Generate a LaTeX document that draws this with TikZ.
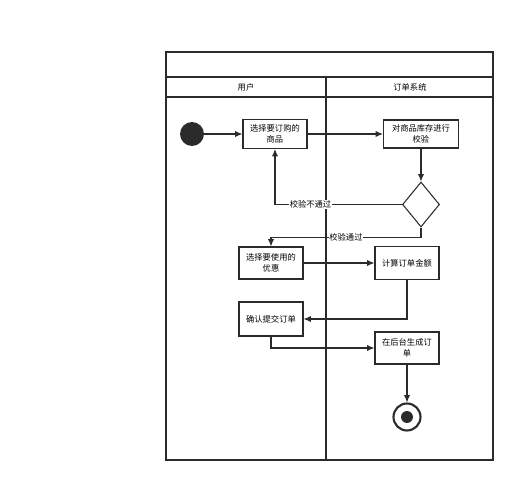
\documentclass[tikz,border=0pt]{standalone}
\usepackage{fontspec}
\newfontfamily\cjk{Noto Sans CJK SC}
\usepackage{tikz}
\usetikzlibrary{shapes.geometric, positioning, arrows.meta}
\definecolor{lineclr}{HTML}{2B2B2B}
\tikzset{>={Latex[length=4.2pt, width=3.6pt]}}
\tikzset{font=\cjk\fontsize{4.7}{6}\selectfont}
\tikzset{actbox/.style={draw=lineclr, line width=0.6pt, fill=white, align=center,
    inner sep=1pt, minimum width=1.28cm}}
\tikzset{flow/.style={->, draw=lineclr, line width=0.6pt}}
\tikzset{guard/.style={fill=white, inner sep=0.5pt}}

\begin{document}
\begin{tikzpicture}[x=0.02cm, y=-0.02cm]
  \useasboundingbox (0,0) rectangle (532,500);
  % swimlane frame
  \draw[lineclr, line width=0.6pt] (166,52) rectangle (493,460);
  \draw[lineclr, line width=0.6pt] (166,77) -- (493,77);
  \draw[lineclr, line width=0.6pt] (166,97) -- (493,97);
  \draw[lineclr, line width=0.6pt] (326,77) -- (326,460);
  \node (laneuser) at (246,87) {用户};
  \node (laneorder) at (410,87) {订单系统};

  % activities
  \node[circle, fill=lineclr, minimum size=0.48cm, inner sep=0pt] (start) at (192,134) {};
  \node[actbox, minimum height=0.58cm] (pick) at (275,134) {选择要订购的\\商品};
  \node[actbox, minimum width=1.5cm, minimum height=0.56cm] (check) at (421,134) {对商品库存进行\\校验};
  \node[diamond, draw=lineclr, line width=0.6pt, minimum width=0.74cm,
    minimum height=0.9cm, inner sep=0pt] (dec) at (421,204.5) {};
  \node[actbox, minimum height=0.64cm] (coupon) at (271,263) {选择要使用的\\优惠};
  \node[actbox, minimum height=0.66cm] (calc) at (407,263) {计算订单金额};
  \node[actbox, minimum height=0.68cm] (confirm) at (271,319) {确认提交订单};
  \node[actbox, minimum height=0.64cm] (gen) at (407,348) {在后台生成订\\单};
  \node[circle, draw=lineclr, line width=1.2pt, minimum size=0.54cm, inner sep=0pt] (end) at (407,417) {};
  \node[circle, fill=lineclr, minimum size=0.24cm, inner sep=0pt] (enddot) at (end) {};

  % flows
  \draw[flow] (start) -- (pick);
  \draw[flow] (pick) -- (check);
  \draw[flow] (check) -- (dec);
  \draw[flow] (dec.west) -| node[guard, pos=0.36] (failtxt) {校验不通过} (pick.south);
  \draw[flow] (dec.south) -- ++(0,10) -| node[guard, pos=0.25] (passtxt) {校验通过} (coupon.north);
  \draw[flow] (coupon) -- (calc);
  \draw[flow] (calc.south) |- (confirm.east);
  \draw[flow] (confirm.south) |- (gen.west);
  \draw[flow] (gen) -- (end);
\end{tikzpicture}
\end{document}
